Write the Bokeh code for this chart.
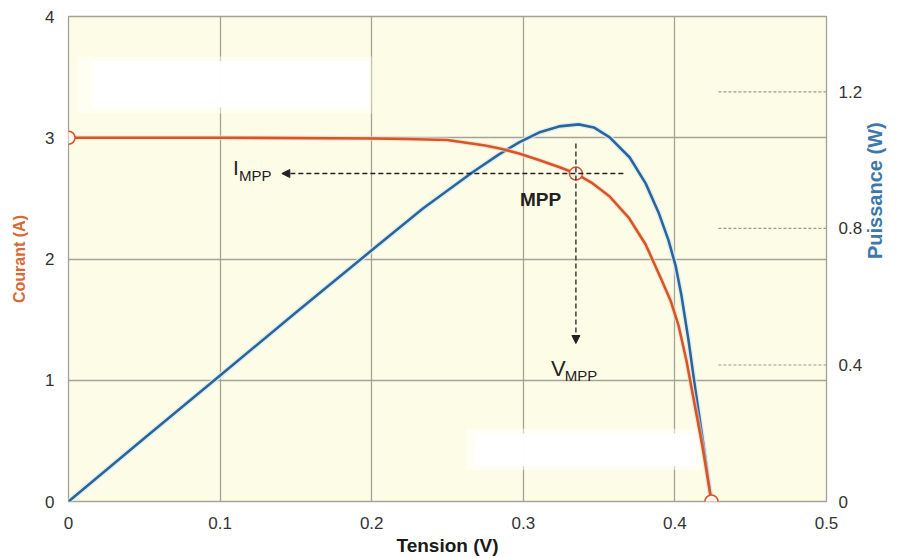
import math
from bokeh.plotting import figure
from bokeh.models import (Range1d, LinearAxis, FixedTicker, NumeralTickFormatter,
                          Arrow, NormalHead, BoxAnnotation)
from bokeh.core.properties import value
from bokeh.embed import file_html
from bokeh.resources import INLINE

# ---- data ----
# I-V curve (Courant, A) vs Tension (V)
v_iv = [0.0, 0.1, 0.2, 0.2229, 0.2498, 0.2748, 0.286, 0.2972, 0.3103, 0.3235, 0.3347,
        0.3458, 0.357, 0.3695, 0.3807, 0.3905, 0.3971, 0.4024, 0.4076, 0.4129, 0.4182, 0.4241]
i_iv = [3.0, 3.0, 2.994, 2.99, 2.981, 2.936, 2.907, 2.870, 2.816, 2.759, 2.705,
        2.623, 2.515, 2.342, 2.120, 1.847, 1.658, 1.452, 1.163, 0.808, 0.454, 0.0]

# P-V curve (Puissance, W) vs Tension (V)
v_pv = [0.0, 0.05, 0.1, 0.15, 0.2, 0.234, 0.2663, 0.284, 0.2972, 0.3103, 0.3235, 0.3366,
        0.3465, 0.357, 0.3702, 0.3807, 0.3892, 0.3958, 0.4004, 0.4043, 0.409, 0.4136,
        0.4189, 0.4241]
p_pv = [0.0, 0.185, 0.369, 0.554, 0.736, 0.859, 0.964, 1.017, 1.052, 1.081, 1.099, 1.105,
        1.096, 1.067, 1.008, 0.932, 0.847, 0.765, 0.692, 0.604, 0.472, 0.325,
        0.164, 0.0]

v_mpp, i_mpp = 0.3347, 2.705
v_oc = 0.4241

x_ticks = [0, 0.1, 0.2, 0.3, 0.4, 0.5]
y_ticks = [0, 1, 2, 3, 4]
p_ticks = [0, 0.4, 0.8, 1.2]

ORANGE = "#D4572A"
BLUE = "#2B6699"
DARK = "#222222"
GRID = "#a3a39a"

p = figure(width=900, height=558, output_backend="svg", toolbar_location=None,
           x_range=Range1d(0, 0.5), y_range=Range1d(0, 4),
           min_border_left=68, min_border_right=71, min_border_top=16, min_border_bottom=57)
p.extra_y_ranges = {"power": Range1d(0, 1.421)}

p.background_fill_color = "#FDFCE6"
p.border_fill_color = "white"
p.outline_line_color = GRID
p.outline_line_width = 1.3

# grid
p.xgrid.ticker = FixedTicker(ticks=x_ticks)
p.ygrid.ticker = FixedTicker(ticks=y_ticks)
for g in (p.xgrid, p.ygrid):
    g.grid_line_color = GRID
    g.grid_line_width = 1.3
    g.grid_line_alpha = 1.0

# white patches (erased labels)
p.add_layout(BoxAnnotation(left=0.006, right=0.2, bottom=3.2, top=3.67,
                           fill_color="white", fill_alpha=0.5, line_color=None, level="underlay"))
p.add_layout(BoxAnnotation(left=0.016, right=0.198, bottom=3.25, top=3.63,
                           fill_color="white", fill_alpha=0.95, line_color=None, level="underlay"))
p.add_layout(BoxAnnotation(left=0.262, right=0.418, bottom=0.26, top=0.6,
                           fill_color="white", fill_alpha=0.5, line_color=None, level="underlay"))
p.add_layout(BoxAnnotation(left=0.268, right=0.414, bottom=0.29, top=0.56,
                           fill_color="white", fill_alpha=0.95, line_color=None, level="underlay"))

# right guide dashes
p.segment(x0=[0.4287] * 3, x1=[0.5] * 3, y0=p_ticks[1:], y1=p_ticks[1:],
          y_range_name="power", line_color="#9a9a90", line_width=1.2, line_dash="3 2")

# curves
p.line(v_pv, p_pv, y_range_name="power", line_color="#dcebf3", line_width=5.5, line_alpha=0.8,
       line_join="round")
p.line(v_pv, p_pv, y_range_name="power", line_color=BLUE, line_width=2.6, line_join="round")
p.line(v_iv, i_iv, line_color="#f6d8c8", line_width=5.0, line_alpha=0.6, line_join="round")
p.line(v_iv, i_iv, line_color=ORANGE, line_width=2.6, line_join="round")

# MPP guides
p.add_layout(Arrow(x_start=0.366, y_start=i_mpp, x_end=0.1407, y_end=i_mpp,
                   line_color=DARK, line_width=1.3, line_dash="5 3",
                   end=NormalHead(size=8, fill_color=DARK, line_color=DARK)))
p.add_layout(Arrow(x_start=v_mpp, y_start=2.953, x_end=v_mpp, y_end=1.303,
                   line_color=DARK, line_width=1.3, line_dash="5 3",
                   end=NormalHead(size=8, fill_color=DARK, line_color=DARK)))

# markers
p.scatter([v_iv[0], v_mpp, v_oc], [i_iv[0], i_mpp, 0.0], marker="circle", size=13,
          fill_color="#FFF4EC", line_color=ORANGE, line_width=1.5)

# texts
FONT = value("Liberation Sans")
p.text(x=[0.1085], y=[2.755], text=["I"], text_font=FONT, text_font_size="21px",
       text_color=DARK, text_baseline="alphabetic", text_align="left")
p.text(x=[0.1124], y=[2.689], text=["MPP"], text_font=FONT, text_font_size="15px",
       text_color=DARK, text_baseline="alphabetic", text_align="left")
p.text(x=[0.2978], y=[2.491], text=["MPP"], text_font=FONT, text_font_size="19px",
       text_font_style="bold", text_color=DARK, text_baseline="alphabetic", text_align="left")
p.text(x=[0.3182], y=[1.097], text=["V"], text_font=FONT, text_font_size="22px",
       text_color=DARK, text_baseline="alphabetic", text_align="left")
p.text(x=[0.3274], y=[1.039], text=["MPP"], text_font=FONT, text_font_size="15px",
       text_color=DARK, text_baseline="alphabetic", text_align="left")

# axes
right = LinearAxis(y_range_name="power", axis_label="Puissance (W)")
p.add_layout(right, "right")

p.xaxis.ticker = FixedTicker(ticks=x_ticks)
p.yaxis[0].ticker = FixedTicker(ticks=y_ticks)
right.ticker = FixedTicker(ticks=p_ticks)
p.xaxis.axis_label = "Tension (V)"
p.yaxis[0].axis_label = "Courant (A)"

for ax in [p.xaxis[0], p.yaxis[0], right]:
    ax.formatter = NumeralTickFormatter(format="0.[0]")
    ax.axis_line_color = None
    ax.major_tick_line_color = None
    ax.minor_tick_line_color = None
    ax.major_label_text_font = "Liberation Sans"
    ax.major_label_text_font_size = "17px"
    ax.major_label_text_color = "#333333"
    ax.axis_label_text_font = "Liberation Sans"
    ax.axis_label_text_font_style = "bold"

p.xaxis.major_label_standoff = 9
p.xaxis.axis_label_standoff = 3
p.xaxis.axis_label_text_font_size = "19px"
p.xaxis.axis_label_text_color = "#1a1a1a"

p.yaxis[0].major_label_standoff = 8
p.yaxis[0].axis_label_standoff = 14
p.yaxis[0].axis_label_text_font_size = "16px"
p.yaxis[0].axis_label_text_color = "#D86A35"

right.major_label_standoff = 6
right.axis_label_standoff = 10
right.axis_label_text_font_size = "20px"
right.axis_label_text_color = "#3C78AC"
right.axis_label_orientation = math.pi / 2

open("out.html", "w").write(file_html(p, INLINE))
